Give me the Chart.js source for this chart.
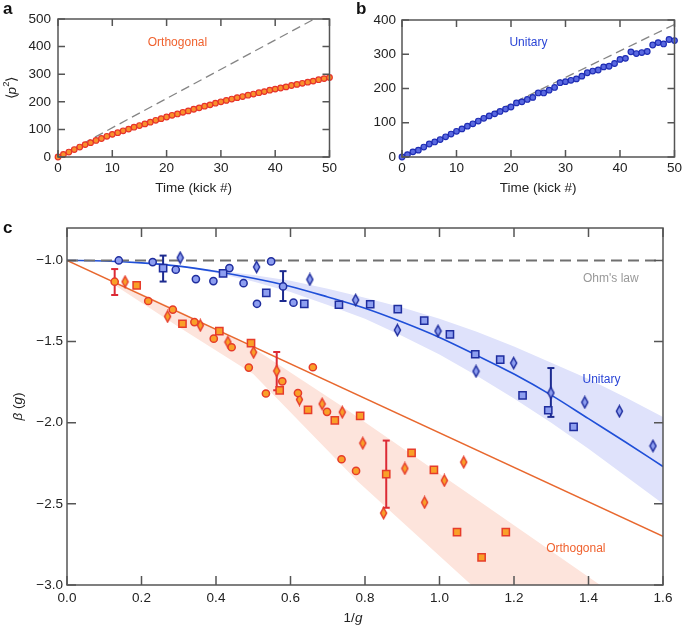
<!DOCTYPE html>
<html>
<head>
<meta charset="utf-8">
<script src="https://cdn.jsdelivr.net/npm/chart.js@4.4.0/dist/chart.umd.min.js"></script>
<style>
  body { margin: 0; background: #fff; width: 685px; height: 625px; position: relative; overflow: hidden; }
  canvas { position: absolute; }
</style>
</head>
<body>
<canvas id="ca" width="340" height="200" style="left:0;top:0"></canvas>
<canvas id="cb" width="345" height="200" style="left:340px;top:0"></canvas>
<canvas id="cc" width="685" height="425" style="left:0;top:200px"></canvas>
<script>
// ---- panel a / b : <p^2> vs kick number ----
const kicks = Array.from({ length: 51 }, (_, i) => i);
const orthoP2 = [0, 9, 18, 27, 36, 45, 52, 60, 67, 75, 82, 88, 95, 101, 108, 114, 120, 126, 133, 139, 145,
  151, 156, 162, 167, 173, 178, 184, 189, 195, 200, 205, 210, 215, 219, 224, 228, 233, 237, 242, 246,
  250, 254, 259, 263, 267, 271, 275, 280, 284, 288];
const unitP2 = [0, 7, 15, 20, 29, 38, 44, 51, 59, 67, 75, 82, 90, 97, 105, 113, 120, 126, 133, 140, 146,
  158, 161, 168, 174, 187, 187, 195, 203, 217, 220, 224, 228, 236, 246, 251, 254, 263, 265, 273, 285,
  288, 307, 302, 305, 308, 327, 334, 330, 343, 340];
const orthoDashX = [0, 47.2], orthoDashY = [0, 500];
const unitDashX = [0, 50], unitDashY = [0, 387];

// ---- panel c : beta(g) vs 1/g ----
const blueCircleX = [0.139, 0.23, 0.292, 0.346, 0.393, 0.436, 0.474, 0.51, 0.548, 0.58, 0.608];
const blueCircleY = [-1.00, -1.01, -1.057, -1.115, -1.127, -1.047, -1.14, -1.267, -1.006, -1.16, -1.26];
const blueSquareX = [0.258, 0.419, 0.535, 0.637, 0.73, 0.814, 0.888, 0.959, 1.028, 1.096, 1.163, 1.223, 1.292, 1.36];
const blueSquareY = [-1.047, -1.08, -1.20, -1.267, -1.273, -1.27, -1.30, -1.371, -1.455, -1.578, -1.611, -1.831, -1.923, -2.026];
const blueDiamondX = [0.304, 0.509, 0.652, 0.775, 0.887, 0.996, 1.098, 1.199, 1.299, 1.39, 1.483, 1.573];
const blueDiamondY = [-0.983, -1.04, -1.117, -1.244, -1.429, -1.435, -1.683, -1.632, -1.816, -1.874, -1.929, -2.143];
const orangeCircleX = [0.128, 0.218, 0.284, 0.342, 0.394, 0.442, 0.488, 0.534, 0.578, 0.62, 0.66, 0.698, 0.737, 0.776];
const orangeCircleY = [-1.131, -1.25, -1.303, -1.38, -1.482, -1.535, -1.66, -1.82, -1.745, -1.817, -1.658, -1.933, -2.225, -2.297];
const orangeSquareX = [0.187, 0.31, 0.409, 0.494, 0.571, 0.647, 0.719, 0.787, 0.857, 0.925, 0.985, 1.047, 1.113, 1.178];
const orangeSquareY = [-1.154, -1.39, -1.435, -1.509, -1.80, -1.921, -1.985, -1.958, -2.317, -2.186, -2.29, -2.674, -2.83, -2.674];
const orangeDiamondX = [0.156, 0.27, 0.358, 0.432, 0.501, 0.563, 0.624, 0.685, 0.739, 0.794, 0.85, 0.907, 0.96, 1.013, 1.065];
const orangeDiamondY = [-1.131, -1.345, -1.40, -1.503, -1.566, -1.681, -1.857, -1.884, -1.935, -2.126, -2.557, -2.282, -2.491, -2.356, -2.243];

// error bars
const blueErrX = [0.258, 0.58, 1.299];
const blueErrLo = [-1.13, -1.25, -1.964];
const blueErrHi = [-0.97, -1.066, -1.663];
const orangeErrX = [0.128, 0.563, 0.857];
const orangeErrLo = [-1.213, -1.80, -2.524];
const orangeErrHi = [-1.053, -1.564, -2.11];

// theory curves and bands
const ohmX = [0, 1.6], ohmY = [-1, -1];
const orthoLineX = [0, 1.6], orthoLineY = [-1, -2.70];
const unitCurveX = [0, 0.1, 0.2, 0.3, 0.4, 0.5, 0.6, 0.7, 0.8, 0.9, 1.0, 1.1, 1.2, 1.3, 1.4, 1.5, 1.6];
const unitCurveY = [-1.0, -1.003, -1.015, -1.035, -1.068, -1.11, -1.16, -1.225, -1.295, -1.38, -1.475, -1.585, -1.70, -1.83, -1.975, -2.12, -2.27];
const unitBandX = [0.3, 0.4, 0.5, 0.6, 0.7, 0.8, 0.9, 1.0, 1.1, 1.2, 1.3, 1.4, 1.5, 1.6];
const unitBandUp = [-1.033, -1.06, -1.09, -1.125, -1.175, -1.23, -1.29, -1.36, -1.44, -1.53, -1.63, -1.73, -1.845, -1.965];
const unitBandLo = [-1.037, -1.077, -1.13, -1.195, -1.275, -1.36, -1.465, -1.58, -1.71, -1.85, -2.0, -2.16, -2.33, -2.50];
const orthoBandUpX = [0.12, 0.3, 0.5, 0.733, 1.08, 1.45];
const orthoBandUpY = [-1.12, -1.31, -1.54, -1.89, -2.44, -3.03];
const orthoBandLoX = [0.12, 0.3, 0.5, 0.78, 1.1];
const orthoBandLoY = [-1.14, -1.41, -1.70, -2.36, -3.03];

const FONT = "'Liberation Sans', Arial, Helvetica, sans-serif";
Chart.defaults.font.family = FONT;
Chart.defaults.color = '#222';

const pts = (xs, ys) => xs.map((x, i) => ({ x: x, y: ys[i] }));

// narrow diamond marker
function diamond(fill, stroke, w, h) {
  const c = document.createElement('canvas');
  c.width = w + 3; c.height = h + 3;
  const g = c.getContext('2d');
  g.beginPath();
  g.moveTo(c.width / 2, 1.5);
  g.lineTo(c.width - 1.5, c.height / 2);
  g.lineTo(c.width / 2, c.height - 1.5);
  g.lineTo(1.5, c.height / 2);
  g.closePath();
  g.fillStyle = fill; g.fill();
  g.lineWidth = 1.5; g.strokeStyle = stroke; g.stroke();
  return c;
}

// text with italic / superscript parts
function rich(ctx, parts, cx, cy, size, color, rot) {
  ctx.save();
  ctx.translate(cx, cy);
  if (rot) ctx.rotate(rot);
  ctx.fillStyle = color;
  ctx.textBaseline = 'middle';
  ctx.textAlign = 'left';
  const f = p => (p.it ? 'italic ' : '') + (p.sup ? size * 0.7 : size) + 'px ' + FONT;
  let w = 0;
  parts.forEach(p => { ctx.font = f(p); w += ctx.measureText(p.t).width; });
  let x0 = -w / 2;
  parts.forEach(p => {
    ctx.font = f(p);
    ctx.fillText(p.t, x0, p.sup ? -size * 0.38 : 0);
    x0 += ctx.measureText(p.t).width;
  });
  ctx.restore();
}

// box frame with inward ticks on all four sides
const frame = {
  id: 'frame',
  afterDatasetsDraw(chart, args, o) {
    const { ctx, chartArea: a, scales } = chart;
    const x = scales.x, y = scales.y;
    ctx.save();
    ctx.strokeStyle = '#555';
    ctx.lineWidth = 1.5;
    ctx.strokeRect(a.left, a.top, a.right - a.left, a.bottom - a.top);
    ctx.beginPath();
    x.ticks.forEach(t => {
      const p = x.getPixelForValue(t.value);
      ctx.moveTo(p, a.bottom); ctx.lineTo(p, a.bottom - o.len);
      ctx.moveTo(p, a.top); ctx.lineTo(p, a.top + o.len);
    });
    y.ticks.forEach(t => {
      const p = y.getPixelForValue(t.value);
      ctx.moveTo(a.left, p); ctx.lineTo(a.left + o.len, p);
      ctx.moveTo(a.right, p); ctx.lineTo(a.right - o.len, p);
    });
    ctx.stroke();
    ctx.restore();
  }
};

// labels: in-plot ones placed in data coords, axis titles relative to chart area
const labels = {
  id: 'labels',
  afterDraw(chart, args, o) {
    const { ctx, chartArea: a, scales } = chart;
    (o.items || []).forEach(it => {
      let px, py;
      if (it.data) {
        px = scales.x.getPixelForValue(it.data[0]);
        py = scales.y.getPixelForValue(it.data[1]);
      } else {
        px = it.area ? (it.area[0] === 'c' ? (a.left + a.right) / 2 : it.area[0]) : it.px[0];
        py = it.area ? (it.area[1] === 'c' ? (a.top + a.bottom) / 2 : it.area[1]) : it.px[1];
        if (it.dx) px += it.dx;
        if (it.dy) py += it.dy;
      }
      if (it.bold) {
        ctx.save();
        ctx.font = 'bold ' + it.size + 'px ' + FONT;
        ctx.fillStyle = it.color;
        ctx.textBaseline = 'alphabetic';
        ctx.fillText(it.parts[0].t, px, py);
        ctx.restore();
      } else {
        rich(ctx, it.parts, px, py, it.size, it.color, it.rot);
      }
    });
  }
};

function scale(min, max, step, pad, size, fit, fmt) {
  return {
    type: 'linear', min: min, max: max,
    ticks: { stepSize: step, padding: pad, includeBounds: false, color: '#222',
      font: { size: size }, callback: fmt || (v => String(v)) },
    grid: { display: false, drawTicks: false },
    border: { display: false },
    afterFit: fit
  };
}

const base = {
  responsive: false, animation: false, devicePixelRatio: 1,
  events: []
};

// ---------- panel a ----------
new Chart(document.getElementById('ca'), {
  type: 'scatter',
  data: {
    datasets: [
      { data: pts(kicks, orthoP2), pointRadius: 2.8, pointBorderWidth: 1.2,
        pointBackgroundColor: '#f8902c', pointBorderColor: '#e7332a', order: 1, clip: 8 },
      { data: pts(orthoDashX, orthoDashY), showLine: true, borderColor: '#858585', borderWidth: 1.3,
        borderDash: [9, 5], pointRadius: 0, order: 2 }
    ]
  },
  options: Object.assign({}, base, {
    layout: { padding: { top: 19, right: 8, left: 0, bottom: 0 } },
    plugins: {
      legend: { display: false }, tooltip: { enabled: false },
      frame: { len: 7 },
      labels: { items: [
        { parts: [{ t: 'a' }], bold: true, size: 17, color: '#111', px: [3, 14] },
        { parts: [{ t: 'Orthogonal' }], size: 12, color: '#f0622f', data: [22, 414] },
        { parts: [{ t: 'Time (kick #)' }], size: 13.5, color: '#222', area: ['c', 188] },
        { parts: [{ t: '⟨' }, { t: 'p', it: true }, { t: '2', sup: true }, { t: '⟩' }], size: 13.5,
          color: '#222', area: [12, 'c'], rot: -Math.PI / 2 }
      ] }
    },
    scales: {
      x: scale(0, 50, 10, 3, 13.5, s => { s.height = 43; }),
      y: scale(0, 500, 100, 7, 13.5, s => { s.width = 58; })
    }
  }),
  plugins: [frame, labels]
});

// ---------- panel b ----------
new Chart(document.getElementById('cb'), {
  type: 'scatter',
  data: {
    datasets: [
      { data: pts(kicks, unitP2), pointRadius: 2.8, pointBorderWidth: 1.2,
        pointBackgroundColor: '#5a69e0', pointBorderColor: '#1f2db4', order: 1, clip: 8 },
      { data: pts(unitDashX, unitDashY), showLine: true, borderColor: '#858585', borderWidth: 1.3,
        borderDash: [9, 5], pointRadius: 0, order: 2 }
    ]
  },
  options: Object.assign({}, base, {
    layout: { padding: { top: 20, right: 7, left: 0, bottom: 0 } },
    plugins: {
      legend: { display: false }, tooltip: { enabled: false },
      frame: { len: 7 },
      labels: { items: [
        { parts: [{ t: 'b' }], bold: true, size: 17, color: '#111', px: [16, 14] },
        { parts: [{ t: 'Unitary' }], size: 12, color: '#2a45d6', data: [23.2, 333] },
        { parts: [{ t: 'Time (kick #)' }], size: 13.5, color: '#222', area: ['c', 188] }
      ] }
    },
    scales: {
      x: scale(0, 50, 10, 3, 13.5, s => { s.height = 43; }),
      y: scale(0, 400, 100, 6, 13.5, s => { s.width = 62; })
    }
  }),
  plugins: [frame, labels]
});

// ---------- panel c ----------
const BLUE_F = '#8d9ef0', BLUE_S = '#1f2d9e';
const OR_F = '#f9a028', OR_S = '#e63c2a';
const blueDia = diamond(BLUE_F, BLUE_S, 6, 11);
const orDia = diamond(OR_F, OR_S, 6, 11);

function errSet(x, lo, hi, color) {
  return { data: [{ x: x, y: lo }, { x: x, y: hi }], showLine: true, borderColor: color, borderWidth: 2,
    pointStyle: 'line', pointRadius: 3.5, pointBorderWidth: 2, pointBorderColor: color, order: 3, clip: 10 };
}
const errSets = [];
blueErrX.forEach((x, i) => errSets.push(errSet(x, blueErrLo[i], blueErrHi[i], '#1c2a8f')));
orangeErrX.forEach((x, i) => errSets.push(errSet(x, orangeErrLo[i], orangeErrHi[i], '#dc2a35')));

const orthoBand = pts(orthoBandUpX, orthoBandUpY).concat(pts(orthoBandLoX, orthoBandLoY).reverse());
const unitBand = pts(unitBandX, unitBandUp).concat(pts(unitBandX, unitBandLo).reverse());

const fmt1 = v => (v < 0 ? '\u2212' : '') + Math.abs(v).toFixed(1);

new Chart(document.getElementById('cc'), {
  type: 'scatter',
  data: {
    datasets: [
      { data: orthoBand, showLine: true, fill: 'shape', backgroundColor: '#fde4dc', borderWidth: 0,
        borderColor: 'rgba(0,0,0,0)', pointRadius: 0, order: 10, clip: 0 },
      { data: unitBand, showLine: true, fill: 'shape', backgroundColor: '#dfe2fb', borderWidth: 0,
        borderColor: 'rgba(0,0,0,0)', pointRadius: 0, order: 10, clip: 0 },
      { data: pts(orthoLineX, orthoLineY), showLine: true, borderColor: '#e8682f', borderWidth: 1.5,
        pointRadius: 0, order: 6 },
      { data: pts(unitCurveX, unitCurveY), showLine: true, borderColor: '#1f4fd8', borderWidth: 1.6,
        pointRadius: 0, cubicInterpolationMode: 'monotone', order: 6 },
      { data: pts(ohmX, ohmY), showLine: true, borderColor: '#707070', borderWidth: 2,
        borderDash: [11, 6], pointRadius: 0, order: 5, clip: 6 },
      ...errSets,
      { data: pts(orangeCircleX, orangeCircleY), pointStyle: 'circle', pointRadius: 3.6, pointBorderWidth: 1.5,
        pointBackgroundColor: OR_F, pointBorderColor: OR_S, order: 1, clip: 10 },
      { data: pts(orangeSquareX, orangeSquareY), pointStyle: 'rect', pointRadius: 5.1, pointBorderWidth: 1.5,
        pointBackgroundColor: OR_F, pointBorderColor: OR_S, order: 1, clip: 10 },
      { data: pts(orangeDiamondX, orangeDiamondY), pointStyle: orDia, pointRadius: 5, order: 1, clip: 10 },
      { data: pts(blueCircleX, blueCircleY), pointStyle: 'circle', pointRadius: 3.6, pointBorderWidth: 1.5,
        pointBackgroundColor: BLUE_F, pointBorderColor: BLUE_S, order: 1, clip: 10 },
      { data: pts(blueSquareX, blueSquareY), pointStyle: 'rect', pointRadius: 5.1, pointBorderWidth: 1.5,
        pointBackgroundColor: BLUE_F, pointBorderColor: BLUE_S, order: 1, clip: 10 },
      { data: pts(blueDiamondX, blueDiamondY), pointStyle: blueDia, pointRadius: 5, order: 1, clip: 10 }
    ]
  },
  options: Object.assign({}, base, {
    layout: { padding: { top: 28, right: 22, left: 0, bottom: 0 } },
    plugins: {
      legend: { display: false }, tooltip: { enabled: false },
      frame: { len: 9 },
      labels: { items: [
        { parts: [{ t: 'c' }], bold: true, size: 17, color: '#111', px: [3, 33] },
        { parts: [{ t: "Ohm's law" }], size: 12, color: '#999', data: [1.46, -1.113] },
        { parts: [{ t: 'Unitary' }], size: 12, color: '#2a45d6', data: [1.435, -1.732] },
        { parts: [{ t: 'Orthogonal' }], size: 12, color: '#f0622f', data: [1.366, -2.774] },
        { parts: [{ t: '1/' }, { t: 'g', it: true }], size: 13.5, color: '#222', area: ['c', 418], dx: -12 },
        { parts: [{ t: '\u03b2', it: true }, { t: ' (' }, { t: 'g', it: true }, { t: ')' }], size: 13.5,
          color: '#222', area: [18, 'c'], rot: -Math.PI / 2 }
      ] }
    },
    scales: {
      x: scale(0, 1.6, 0.2, 5, 13.5, s => { s.height = 40; }, fmt1),
      y: scale(-3.0, -0.8, 0.5, 4, 13.5, s => { s.width = 67; }, fmt1)
    }
  }),
  plugins: [frame, labels]
});
</script>
</body>
</html>
